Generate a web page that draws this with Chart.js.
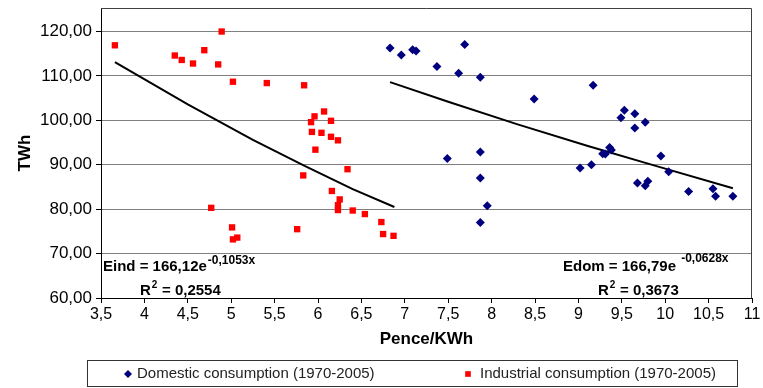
<!DOCTYPE html>
<html>
<head>
<meta charset="utf-8">
<script src="https://cdn.jsdelivr.net/npm/chart.js@4/dist/chart.umd.min.js"></script>
<style>
  html, body { margin: 0; padding: 0; background: #fff; }
  #chart { display: block; }
</style>
</head>
<body>
<canvas id="chart" width="763" height="388"></canvas>
<script>
// domestic consumption (1970-2005)
const domX = [6.83, 6.96, 7.09, 7.13, 7.37, 7.62, 7.69, 7.87, 8.49, 9.17, 7.49, 7.87, 7.87, 7.95, 7.87, 9.02, 9.15, 9.28, 9.31, 9.36, 9.38, 9.49, 9.53, 9.65, 9.77, 9.65, 9.95, 10.04, 9.68, 9.77, 9.80, 10.27, 10.55, 10.58, 10.78];
const domY = [116.3, 114.7, 115.9, 115.6, 112.1, 110.6, 117.1, 109.7, 104.8, 107.9, 91.4, 92.9, 87.0, 80.8, 77.0, 89.3, 90.0, 92.5, 92.4, 93.9, 93.3, 100.6, 102.3, 101.5, 99.6, 98.3, 92.0, 88.4, 85.9, 85.3, 86.3, 84.0, 84.6, 82.9, 82.9];

// industrial consumption (1970-2005)
const indX = [3.66, 4.35, 4.43, 4.56, 4.69, 4.89, 4.85, 5.02, 5.41, 5.84, 6.07, 5.96, 5.92, 6.15, 5.93, 6.04, 6.15, 6.23, 5.97, 6.34, 5.83, 6.16, 6.25, 6.23, 6.23, 6.40, 6.54, 6.73, 6.75, 6.87, 4.77, 5.01, 5.02, 5.07, 5.76];
const indY = [116.9, 114.6, 113.6, 112.8, 115.8, 120.0, 112.6, 108.7, 108.4, 107.9, 102.0, 100.9, 99.6, 99.9, 97.4, 97.2, 96.3, 95.5, 93.4, 89.0, 87.6, 84.1, 82.2, 80.9, 79.8, 79.7, 78.9, 77.1, 74.4, 74.0, 80.3, 75.9, 73.2, 73.6, 75.5];

// trend lines, points
const indTrendX = [3.66, 4.5, 5.25, 5.84, 6.4, 6.88];
const indTrendY = [113.1, 103.6, 95.6, 89.8, 84.5, 80.5];
const domTrendX = [6.83, 7.5, 8.3, 9.1, 9.9, 10.78];
const domTrendY = [108.6, 104.2, 99.1, 94.3, 89.7, 84.7];

const xTicks = [3.5, 4, 4.5, 5, 5.5, 6, 6.5, 7, 7.5, 8, 8.5, 9, 9.5, 10, 10.5, 11];
const yTicks = [60, 70, 80, 90, 100, 110, 120];

const domLabel = "Domestic consumption (1970-2005)";
const indLabel = "Industrial consumption (1970-2005)";

const FONT = "'Liberation Sans', Arial, Helvetica, sans-serif";
const toPts = (xs, ys) => xs.map((x, i) => ({ x: x, y: ys[i] }));
const comma = (s) => String(s).replace(".", ",");

Chart.defaults.font.family = FONT;
Chart.defaults.color = "#000";

// plot box, trendline equations and the boxed legend
const decor = {
  id: "decor",
  beforeDatasetsDraw(chart) {
    const { ctx, chartArea: a } = chart;
    ctx.save();
    ctx.strokeStyle = "#404040";
    ctx.lineWidth = 1;
    ctx.beginPath();
    ctx.moveTo(a.left, a.top + 0.5);
    ctx.lineTo(a.right - 0.5, a.top + 0.5);
    ctx.lineTo(a.right - 0.5, a.bottom);
    ctx.stroke();
    ctx.restore();
  },
  afterDraw(chart) {
    const ctx = chart.ctx;
    ctx.save();
    ctx.fillStyle = "#000";
    ctx.textBaseline = "alphabetic";

    function eq(x, y, main, sup, supDy) {
      ctx.font = "bold 15px " + FONT;
      ctx.fillText(main, x, y);
      const w = ctx.measureText(main).width;
      ctx.font = "bold 12px " + FONT;
      ctx.fillText(sup, x + w + 1, y - supDy);
    }
    function r2(x, y, val) {
      ctx.font = "bold 15px " + FONT;
      ctx.fillText("R", x, y);
      const w = ctx.measureText("R").width;
      ctx.font = "bold 10px " + FONT;
      ctx.fillText("2", x + w + 1, y - 7);
      ctx.font = "bold 15px " + FONT;
      ctx.fillText(" = " + val, x + w + 7, y);
    }
    eq(103, 271, "Eind = 166,12e", "-0,1053x", 7);
    r2(140, 295, "0,2554");
    eq(563, 271, "Edom = 166,79e ", "-0,0628x", 9);
    r2(598, 295, "0,3673");

    // legend box
    ctx.strokeStyle = "#333";
    ctx.lineWidth = 1;
    ctx.strokeRect(87.5, 360.5, 650, 26);

    const ds = chart.data.datasets;
    const items = [[ds[0], 128, 137], [ds[1], 468, 480]];
    ctx.textBaseline = "middle";
    items.forEach(([d, mx, tx]) => {
      ctx.fillStyle = d.backgroundColor;
      ctx.strokeStyle = d.backgroundColor;
      Chart.helpers.drawPoint(ctx, {
        pointStyle: d.pointStyle,
        radius: d.pointRadius - 0.5,
        rotation: 0,
        borderWidth: 0
      }, mx, 374);
      ctx.fillStyle = "#222";
      ctx.font = "15px " + FONT;
      ctx.fillText(d.label, tx, 374);
    });
    ctx.restore();
  }
};

new Chart(document.getElementById("chart"), {
  type: "scatter",
  data: {
    datasets: [
      {
        label: domLabel,
        data: toPts(domX, domY),
        pointStyle: "rectRot",
        pointRadius: 4.5,
        backgroundColor: "#00007f",
        borderColor: "#00007f",
        borderWidth: 0
      },
      {
        label: indLabel,
        data: toPts(indX, indY),
        pointStyle: "rect",
        pointRadius: 4.5,
        backgroundColor: "#ff0000",
        borderColor: "#ff0000",
        borderWidth: 0
      },
      {
        label: "Expon. (Industrial)",
        data: toPts(indTrendX, indTrendY),
        showLine: true,
        pointRadius: 0,
        borderColor: "#000",
        borderWidth: 2,
        tension: 0
      },
      {
        label: "Expon. (Domestic)",
        data: toPts(domTrendX, domTrendY),
        showLine: true,
        pointRadius: 0,
        borderColor: "#000",
        borderWidth: 2,
        tension: 0
      }
    ]
  },
  options: {
    responsive: false,
    animation: false,
    devicePixelRatio: 1,
    layout: { padding: { top: 8, right: 11, bottom: 27, left: 0 } },
    plugins: {
      legend: { display: false },
      tooltip: { enabled: false }
    },
    scales: {
      x: {
        type: "linear",
        min: 3.5,
        max: 11,
        afterBuildTicks: (s) => { s.ticks = xTicks.map((v) => ({ value: v })); },
        afterFit: (s) => { s.height = 63; s.paddingLeft = 0; s.paddingRight = 0; },
        ticks: {
          font: { size: 16 },
          color: "#000",
          padding: 2,
          maxRotation: 0,
          autoSkip: false,
          callback: (v) => comma(v)
        },
        grid: { drawOnChartArea: false, drawTicks: true, tickLength: 5, tickColor: "#000" },
        border: { color: "#000", width: 1 },
        title: {
          display: true,
          text: "Pence/KWh",
          font: { size: 17, weight: "bold" },
          color: "#000",
          padding: { top: 0, bottom: 11 }
        }
      },
      y: {
        type: "linear",
        min: 60,
        max: 125.3,
        afterBuildTicks: (s) => { s.ticks = yTicks.map((v) => ({ value: v })); },
        afterFit: (s) => { s.width = 101; s.paddingTop = 0; s.paddingBottom = 0; },
        ticks: {
          font: { size: 17 },
          color: "#000",
          padding: 4,
          callback: (v) => Number(v).toFixed(2).replace(".", ",")
        },
        grid: { color: "#808080", lineWidth: 1, tickLength: 5, tickColor: "#000" },
        border: { color: "#000", width: 1 },
        title: {
          display: true,
          text: "TWh",
          font: { size: 17, weight: "bold" },
          color: "#000",
          padding: { top: 15, bottom: 0 }
        }
      }
    }
  },
  plugins: [decor]
});
</script>
</body>
</html>
